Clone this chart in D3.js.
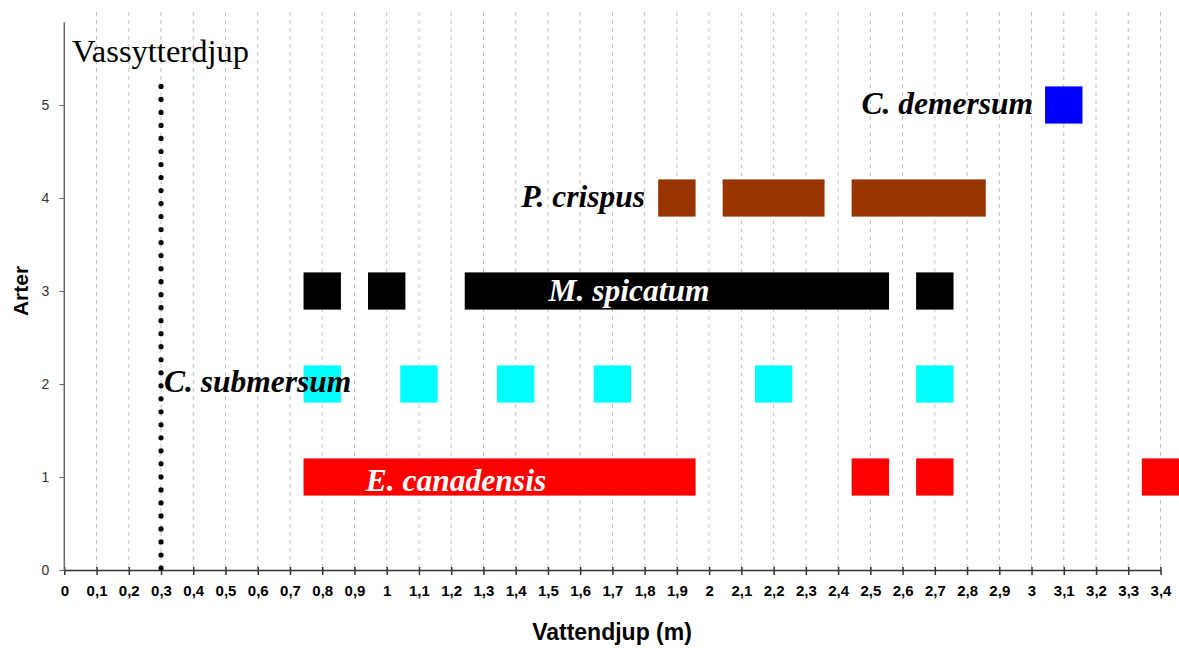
<!DOCTYPE html>
<html><head><meta charset="utf-8">
<script src="https://cdn.jsdelivr.net/npm/d3@7"></script>
<style>body{margin:0;background:#fff}svg{display:block}</style>
</head><body>
<script>
// Data
const species = ["E. canadensis","C. submersum","M. spicatum","P. crispus","C. demersum"];
const speciesRow = [1,2,3,4,5];
const speciesColor = ["#ff0000","#00ffff","#000000","#993300","#0000ff"];
// segments [start,end] in metres for each species
const segCanadensis = [[0.8,1.9],[2.5,2.5],[2.7,2.7],[3.4,3.4]];
const segSubmersum = [[0.8,0.8],[1.1,1.1],[1.4,1.4],[1.7,1.7],[2.2,2.2],[2.7,2.7]];
const segSpicatum = [[0.8,0.8],[1.0,1.0],[1.3,2.5],[2.7,2.7]];
const segCrispus = [[1.9,1.9],[2.1,2.3],[2.5,2.8]];
const segDemersum = [[3.1,3.1]];
const allSegments = [segCanadensis,segSubmersum,segSpicatum,segCrispus,segDemersum];
const xTicks = d3.range(0,35).map(i=>i/10);
const yTicks = [0,1,2,3,4,5];
const vassDepth = 0.3;
const vassTop = 5.2;

const W=1179,H=648;
const svg=d3.select("body").append("svg").attr("width",W).attr("height",H);
const x=d3.scaleLinear().domain([0,3.4]).range([64.3,1160.5]);
const y=d3.scaleLinear().domain([0,6]).range([570,12]);
const pad=0.058, halfH=0.2;

// grid
svg.append("g").selectAll("line").data(xTicks.slice(1)).join("line")
  .attr("x1",d=>x(d)).attr("x2",d=>x(d)).attr("y1",y(6)).attr("y2",y(0))
  .attr("stroke","#c0c0c0").attr("stroke-dasharray","4,4").attr("stroke-width",1);

// bars
allSegments.forEach((segs,i)=>{
  svg.append("g").selectAll("rect").data(segs).join("rect")
    .attr("x",d=>x(d[0]-pad)).attr("width",d=>x(d[1]+pad)-x(d[0]-pad))
    .attr("y",y(speciesRow[i]+halfH)).attr("height",y(speciesRow[i]-halfH)-y(speciesRow[i]+halfH))
    .attr("fill",speciesColor[i]);
});

// axes
const xAxis=svg.append("g").attr("transform",`translate(0,${y(0)})`)
  .call(d3.axisBottom(x).tickValues(xTicks).tickFormat(d=>String(+d.toFixed(1)).replace(".",",")).tickSize(5).tickSizeOuter(0));
xAxis.select(".domain").attr("stroke","#333").attr("stroke-width",1.5);
xAxis.selectAll(".tick line").attr("stroke","#333").attr("y1",-3).attr("stroke-width",1.5);
xAxis.selectAll("text").attr("font-family","Liberation Sans, Arial, sans-serif").attr("font-weight","bold").attr("font-size",15).attr("fill","#000").attr("dy","1.2em");

const yAxis=svg.append("g").attr("transform",`translate(${x(0)},0)`)
  .call(d3.axisLeft(y).tickValues(yTicks).tickFormat(d3.format("d")).tickSize(5).tickSizeOuter(0));
yAxis.select(".domain").attr("stroke","#666").attr("stroke-width",1.5).attr("d",`M0,${y(5.89)}V${y(0)}`);
yAxis.selectAll(".tick line").attr("stroke","#666");
yAxis.selectAll("text").attr("font-family","Liberation Sans, Arial, sans-serif").attr("font-size",14).attr("fill","#333").attr("dx","-0.5em");

// dotted line
const nDots=37, dotBottom=y(0)-2, dotTop=y(vassTop);
svg.append("g").selectAll("circle").data(d3.range(0, nDots+1)).join("circle")
  .attr("cx",x(vassDepth)).attr("cy",k=>dotBottom-k*(dotBottom-dotTop)/nDots).attr("r",2.6).attr("fill","#000");

svg.append("text").attr("x",72).attr("y",62).attr("font-family","Liberation Serif, Times New Roman, serif")
  .attr("font-size",32.5).text("Vassytterdjup");

// species labels
const lab=(t,xx,yy,anchor,fill)=>svg.append("text").attr("x",xx).attr("y",yy).attr("text-anchor",anchor)
  .attr("font-family","Liberation Serif, Times New Roman, serif").attr("font-weight","bold").attr("font-style","italic")
  .attr("font-size",31.5).attr("fill",fill).attr("dominant-baseline","central").text(t);
lab(species[4],1033,y(5)-2,"end","#000");
lab(species[3],645,y(4)-2,"end","#000");
lab(species[2],629,y(3)-1,"middle","#fff");
lab(species[1],164,y(2)-3,"start","#000");
lab(species[0],456,y(1)+3,"middle","#fff");

// axis titles
svg.append("text").attr("x",612).attr("y",640).attr("text-anchor","middle")
  .attr("font-family","Liberation Sans, Arial, sans-serif").attr("font-weight","bold").attr("font-size",23).text("Vattendjup (m)");
svg.append("text").attr("transform","translate(28,291) rotate(-90)").attr("text-anchor","middle")
  .attr("font-family","Liberation Sans, Arial, sans-serif").attr("font-weight","bold").attr("font-size",21).text("Arter");
</script>
</body></html>
